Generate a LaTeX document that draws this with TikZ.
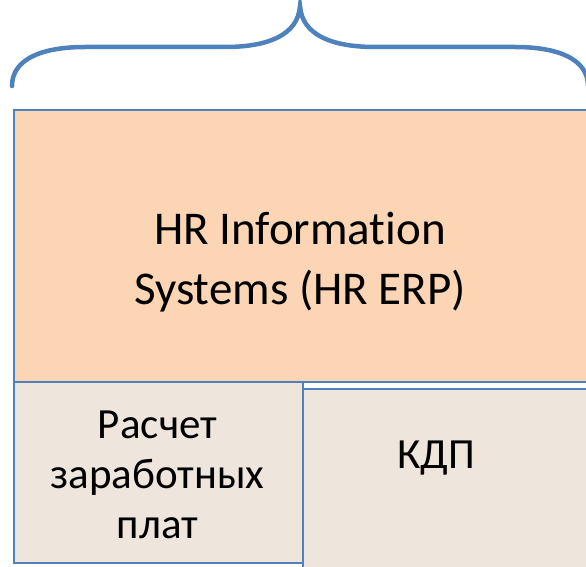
\documentclass[tikz,border=0pt]{standalone}
\usepackage{fontspec}
\setmainfont[Ligatures=NoCommon]{Carlito}
\definecolor{bluel}{HTML}{4F81BD}
\definecolor{peach}{HTML}{FCD5B5}
\definecolor{beige}{HTML}{EEE5DC}
\tikzset{
  box/.style={draw=bluel, line width=2pt, inner sep=0pt, anchor=north west},
  lbl/.style={align=center, text=black, inner sep=0pt},
  brace/.style={draw=bluel, line width=4.5pt, line cap=round}
}
\begin{document}
\begin{tikzpicture}[x=1pt,y=-1pt]
\useasboundingbox (0,0) rectangle (586,567);
% boxes
\node[box, fill=beige, minimum width=300pt, minimum height=200pt] (kdp) at (302,388) {};
\node[box, fill=beige, minimum width=289pt, minimum height=181pt] (pay) at (13,381) {};
\node[box, fill=peach, minimum width=590pt, minimum height=272pt] (hr) at (13,109) {};
% labels
\node[lbl, font=\fontsize{47}{60}\selectfont] (hrt) at (300,262) {HR Information\\Systems (HR ERP)};
\node[lbl, font=\fontsize{43}{50}\selectfont] (payt) at (157.5,475) {Расчет\\заработных\\плат};
\node[lbl, font=\fontsize{43}{50}\selectfont] (kdpt) at (436,458) {КДП};
% brace
\coordinate (bl) at (12,86);
\coordinate (bt) at (300,6);
\coordinate (br) at (588,86);
\draw[brace] (bl) .. controls (12,60) and (40,47) .. (85,47) -- (225,47)
  .. controls (268,47) and (298,35) .. (bt)
  .. controls (302,35) and (332,47) .. (375,47) -- (515,47)
  .. controls (560,47) and (588,60) .. (br);
\end{tikzpicture}
\end{document}
